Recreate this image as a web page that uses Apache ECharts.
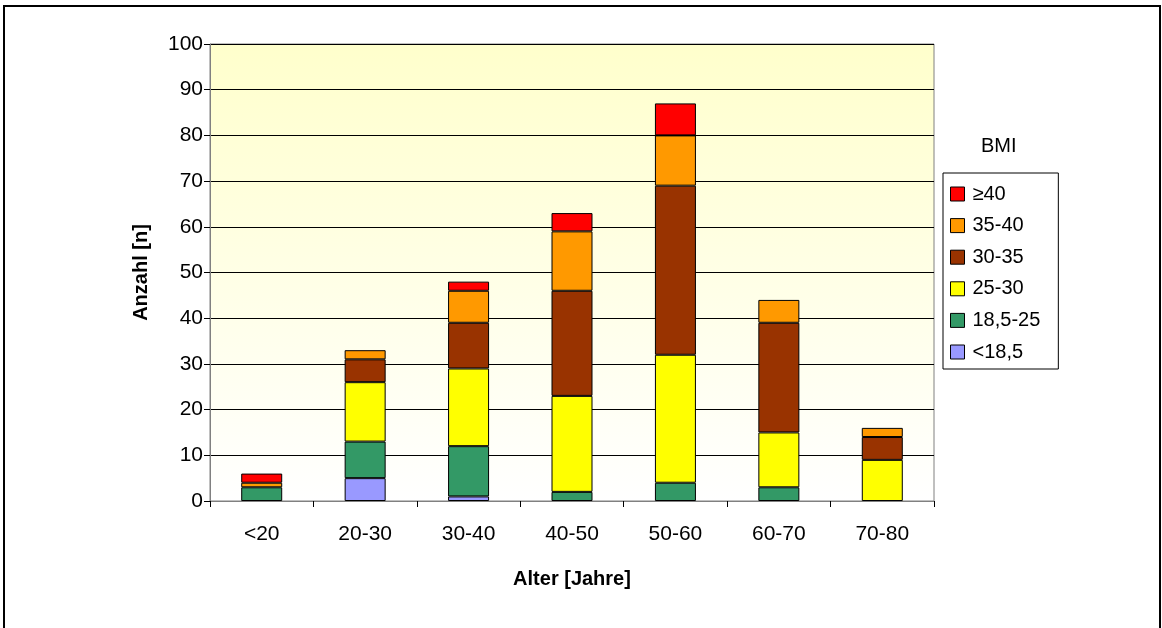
<!DOCTYPE html>
<html><head><meta charset="utf-8">
<script src="https://cdn.jsdelivr.net/npm/echarts@6/dist/echarts.min.js"></script>
<style>html,body{margin:0;padding:0;background:#fff}#c{width:1162px;height:628px}</style>
</head><body><div id="c"></div>
<script>
const categories = ['<20','20-30','30-40','40-50','50-60','60-70','70-80'];
const seriesNames = ['<18,5','18,5-25','25-30','30-35','35-40','≥40'];
const under185 = [0,5,1,0,0,0,0];
const s185_25 = [3,8,11,2,4,3,0];
const s25_30 = [0,13,17,21,28,12,9];
const s30_35 = [0,5,10,23,37,24,5];
const s35_40 = [1,2,7,13,11,5,2];
const over40 = [2,0,2,4,7,0,0];
const yTicks = [0,10,20,30,40,50,60,70,80,90,100];
const colors = ['#9999FF','#339966','#FFFF00','#993300','#FF9900','#FF0000'];
const values = [under185,s185_25,s25_30,s30_35,s35_40,over40];

const chart = echarts.init(document.getElementById('c'));
const font = 'Liberation Sans, Arial, sans-serif';
chart.setOption({
  animation:false,
  backgroundColor:'#fff',
  textStyle:{fontFamily:font},
  title:{text:'BMI',left:976,top:131,textStyle:{fontFamily:font,fontSize:20,fontWeight:'normal',color:'#000'}},
  graphic:[{type:'rect',shape:{x:4,y:6,width:1156,height:640},style:{fill:'none',stroke:'#000',lineWidth:2},silent:true}],
  grid:{left:210,right:228,top:44,bottom:127,show:true,borderColor:'#808080',borderWidth:1,
    backgroundColor:new echarts.graphic.LinearGradient(0,0,0,1,[{offset:0,color:'#FFFFCC'},{offset:1,color:'#FFFFFF'}])},
  legend:{
    orient:'vertical',left:943,top:173,
    padding:[11,18,7,7],itemGap:11.6,itemWidth:14,itemHeight:14,
    borderColor:'#000',borderWidth:1,
    data:seriesNames.slice().reverse(),
    textStyle:{fontFamily:font,fontSize:20,lineHeight:20,color:'#000',padding:[0,0,0,3]},
    itemStyle:{borderColor:'#000',borderWidth:1},
    icon:'rect'
  },
  xAxis:{type:'category',data:categories,
    name:'Alter [Jahre]',nameLocation:'middle',nameGap:68,
    nameTextStyle:{fontFamily:font,fontSize:20,fontWeight:'bold',color:'#000'},
    axisLine:{lineStyle:{color:'#808080',width:1}},
    axisTick:{show:true,length:6,lineStyle:{color:'#000'}},
    axisLabel:{fontFamily:font,fontSize:21,color:'#000',margin:23}},
  yAxis:{type:'value',min:0,max:100,interval:10,
    name:'Anzahl [n]',nameLocation:'middle',nameGap:59,
    nameTextStyle:{fontFamily:font,fontSize:20,fontWeight:'bold',color:'#000'},
    axisLine:{show:true,lineStyle:{color:'#808080',width:1}},
    axisTick:{show:true,length:6,lineStyle:{color:'#000'}},
    axisLabel:{fontFamily:font,fontSize:21,color:'#000',margin:7,
      formatter:v=>yTicks.includes(v)?String(v):''},
    splitLine:{show:true,lineStyle:{color:'#000',width:1}}},
  series:seriesNames.map((n,i)=>({
    name:n,type:'bar',stack:'a',data:values[i].map(v=>v===0?null:v),barWidth:41,
    itemStyle:{color:colors[i],borderColor:'#000',borderWidth:1}
  }))
});
</script></body></html>
